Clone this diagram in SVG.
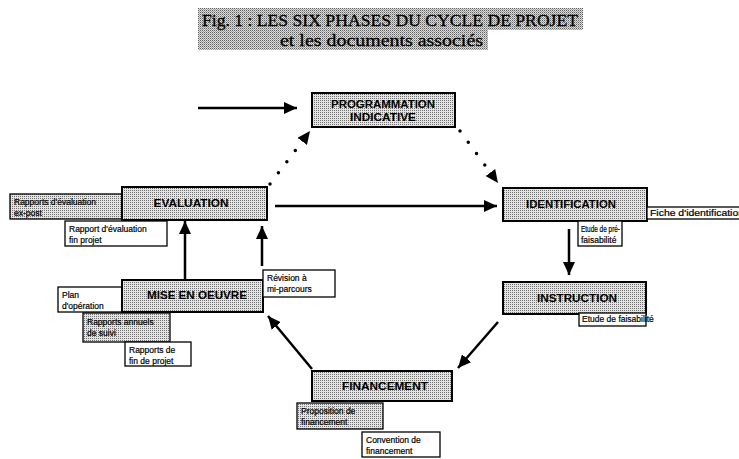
<svg xmlns="http://www.w3.org/2000/svg" width="739" height="459" viewBox="0 0 739 459">
<defs>
<pattern id="ht" width="2" height="2" patternUnits="userSpaceOnUse"><rect width="2" height="2" fill="#e4e4e4"/><rect width="1" height="1" fill="#707070"/></pattern>
<pattern id="ht2" width="2" height="2" patternUnits="userSpaceOnUse"><rect width="2" height="2" fill="#dcdcdc"/><rect width="1" height="1" fill="#606060"/><rect x="1" y="1" width="1" height="1" fill="#a0a0a0"/></pattern>
<marker id="ah" markerUnits="userSpaceOnUse" markerWidth="14" markerHeight="12" refX="13" refY="6" orient="auto"><path d="M0,0 L13,6 L0,12 z" fill="#000"/></marker>
</defs>
<style>
.main{fill:url(#ht);stroke:#000;stroke-width:2}
.doc{fill:#fff;stroke:#000;stroke-width:1.3}
.docg{fill:url(#ht);stroke:#000;stroke-width:1.3}
.lbl{font-family:"Liberation Sans",Arial,sans-serif;font-weight:bold;font-size:10px;fill:#000;text-anchor:middle}
.sm{font-family:"Liberation Sans",Arial,sans-serif;font-size:8.5px;fill:#000;stroke:#000;stroke-width:0.2}
.ttl{font-family:"Liberation Serif","Times New Roman",serif;fill:#000;stroke:#000;stroke-width:0.3}
.c{fill:none;stroke:#000;stroke-width:2.5;marker-end:url(#ah)}
.d{fill:none;stroke:#000;stroke-width:3.5;stroke-linecap:round;stroke-dasharray:0 14;marker-end:url(#ah)}
</style>
<rect width="739" height="459" fill="#fff"/>
<g id="title">
<rect x="198" y="8" width="385" height="22" fill="url(#ht2)"/>
<rect x="198" y="30" width="290" height="20" fill="url(#ht2)"/>
<text class="ttl" x="202" y="26" font-size="17" textLength="376" lengthAdjust="spacingAndGlyphs">Fig. 1  : LES SIX PHASES DU CYCLE DE PROJET</text>
<text class="ttl" x="280" y="46" font-size="17" textLength="203" lengthAdjust="spacingAndGlyphs">et les documents associés</text>
</g>
<g id="connectors">
<line class="c" x1="198" y1="108" x2="297" y2="108"/>
<line class="d" x1="270" y1="184" x2="310" y2="131"/>
<line class="d" x1="460" y1="131" x2="498" y2="183"/>
<line class="c" x1="275" y1="206" x2="497" y2="206"/>
<line class="c" x1="569" y1="229" x2="569" y2="275"/>
<line class="c" x1="498" y1="322" x2="458" y2="368"/>
<line class="c" x1="312" y1="369" x2="268" y2="316"/>
<line class="c" x1="185" y1="279" x2="185" y2="221"/>
<line class="c" x1="262" y1="266" x2="262" y2="226"/>
</g>
<g id="programmation">
<rect class="main" x="312" y="93" width="143" height="34"/>
<text class="lbl" x="383" y="108" textLength="104" lengthAdjust="spacingAndGlyphs">PROGRAMMATION</text>
<text class="lbl" x="383" y="121" textLength="66" lengthAdjust="spacingAndGlyphs">INDICATIVE</text>
</g>
<g id="evaluation">
<rect class="docg" x="10" y="194" width="112" height="25"/>
<text class="sm" x="14" y="205">Rapports d'évaluation</text>
<text class="sm" x="14" y="216">ex-post</text>
<rect class="main" x="122" y="187" width="145" height="33"/>
<text class="lbl" x="191" y="207" textLength="75" lengthAdjust="spacingAndGlyphs">EVALUATION</text>
<rect class="doc" x="65" y="221" width="102" height="25"/>
<text class="sm" x="69" y="232">Rapport d'évaluation</text>
<text class="sm" x="69" y="243">fin projet</text>
</g>
<g id="identification">
<rect class="main" x="503" y="188" width="144" height="33"/>
<text class="lbl" x="571" y="208" textLength="90" lengthAdjust="spacingAndGlyphs">IDENTIFICATION</text>
<rect class="doc" x="647" y="207" width="100" height="12"/>
<text class="sm" x="650" y="216" textLength="94" lengthAdjust="spacingAndGlyphs">Fiche d'identification</text>
<rect class="doc" x="578" y="221" width="44" height="25"/>
<text class="sm" x="581" y="232" textLength="39" lengthAdjust="spacingAndGlyphs">Etude de pré-</text>
<text class="sm" x="581" y="243">faisabilité</text>
</g>
<g id="instruction">
<rect class="main" x="503" y="282" width="143" height="32"/>
<text class="lbl" x="577" y="302" textLength="80" lengthAdjust="spacingAndGlyphs">INSTRUCTION</text>
<rect class="doc" x="579" y="313" width="67" height="13"/>
<text class="sm" x="582" y="322">Etude de faisabilité</text>
</g>
<g id="financement">
<rect class="main" x="312" y="371" width="140" height="30"/>
<text class="lbl" x="385" y="390" textLength="86" lengthAdjust="spacingAndGlyphs">FINANCEMENT</text>
<rect class="docg" x="297" y="403" width="86" height="26"/>
<text class="sm" x="301" y="414">Proposition de</text>
<text class="sm" x="301" y="425">financement</text>
<rect class="doc" x="362" y="432" width="78" height="25"/>
<text class="sm" x="366" y="443">Convention de</text>
<text class="sm" x="366" y="454">financement</text>
</g>
<g id="mise-en-oeuvre">
<rect class="doc" x="58" y="287" width="64" height="25"/>
<text class="sm" x="62" y="298">Plan</text>
<text class="sm" x="62" y="309">d'opération</text>
<rect class="main" x="122" y="280" width="141" height="32"/>
<text class="lbl" x="197" y="299" textLength="100" lengthAdjust="spacingAndGlyphs">MISE EN OEUVRE</text>
<rect class="docg" x="83" y="313" width="87" height="29"/>
<text class="sm" x="87" y="325">Rapports annuels</text>
<text class="sm" x="87" y="336">de suivi</text>
<rect class="doc" x="125" y="342" width="66" height="24"/>
<text class="sm" x="129" y="353">Rapports de</text>
<text class="sm" x="129" y="364">fin de projet</text>
<rect class="doc" x="263" y="270" width="72" height="27"/>
<text class="sm" x="267" y="281">Révision à</text>
<text class="sm" x="267" y="292">mi-parcours</text>
</g>
</svg>
